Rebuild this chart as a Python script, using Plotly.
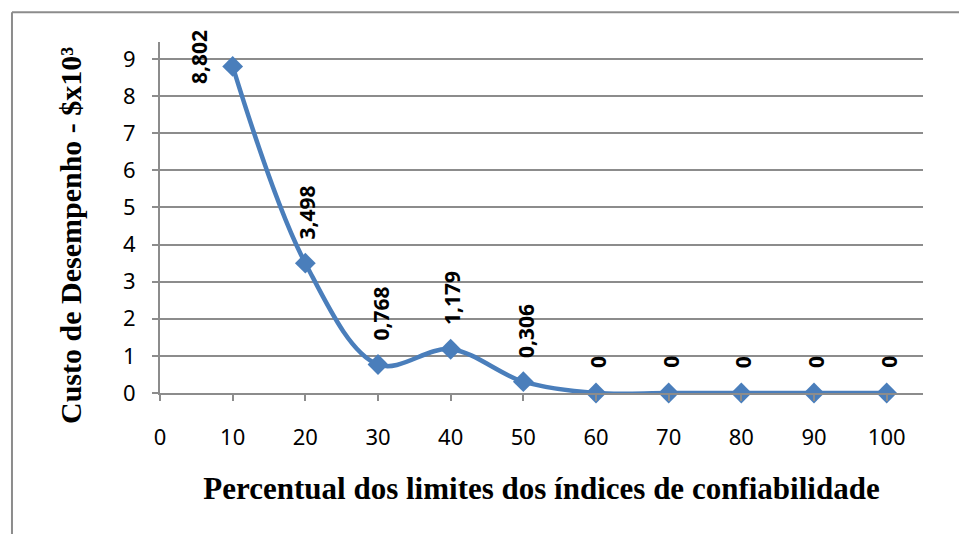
import plotly.graph_objects as go

# Performance cost versus percentage of reliability-index limits
percentual = [10, 20, 30, 40, 50, 60, 70, 80, 90, 100]
custo = [8.802, 3.498, 0.768, 1.179, 0.306, 0, 0, 0, 0, 0]
x_ticks = [0, 10, 20, 30, 40, 50, 60, 70, 80, 90, 100]
y_ticks = [0, 1, 2, 3, 4, 5, 6, 7, 8, 9]

BLUE = "#4A7EBB"
GRID = "#8C8C8C"

fig = go.Figure()
fig.add_trace(go.Scatter(
    x=percentual, y=custo,
    mode="lines+markers",
    line=dict(color=BLUE, width=4.5, shape="spline", smoothing=1.0),
    marker=dict(symbol="diamond", size=16, color=BLUE),
    showlegend=False, cliponaxis=False,
))

# Rotated value labels above each point (first one sits left of its point)
for i, (xv, yv) in enumerate(zip(percentual, custo)):
    txt = f"{yv:.3f}".replace(".", ",") if yv != 0 else "0"
    if i == 0:
        xs, ys = -33, -20
    elif yv == 0:
        xs, ys = 2, 23
    else:
        xs, ys = 2, 22
    fig.add_annotation(
        x=xv, y=yv, text=f"<b>{txt}</b>", showarrow=False, textangle=-90,
        font=dict(family="Noto Sans", size=21, color="black"),
        xanchor="center", yanchor="bottom",
        xshift=xs, yshift=ys,
    )

# Vertical axis title
fig.add_annotation(
    x=-0.118, y=0.45, xref="paper", yref="paper",
    text="<b>Custo de Desempenho - $x10³</b>", showarrow=False, textangle=-90,
    font=dict(family="Liberation Serif", size=30, color="black"),
    xanchor="center", yanchor="middle",
)

fig.update_layout(
    width=959, height=534,
    margin=dict(l=160, r=36, t=42, b=141),
    paper_bgcolor="white", plot_bgcolor="white",
    xaxis=dict(
        range=[0, 105], tickvals=x_ticks, ticktext=[str(v) for v in x_ticks],
        showgrid=False, zeroline=False,
        showline=True, linecolor=GRID, linewidth=2,
        ticks="outside", ticklen=6, tickcolor=GRID, tickwidth=2,
        ticklabelstandoff=18,
        tickfont=dict(family="Noto Sans", size=22, color="black"),
        title=dict(text="<b>Percentual dos limites dos índices de confiabilidade</b>",
                   font=dict(family="Liberation Serif", size=31, color="black"),
                   standoff=27),
    ),
    yaxis=dict(
        range=[0, 9.46], tickvals=y_ticks, ticktext=[str(v) for v in y_ticks],
        showgrid=True, gridcolor=GRID, gridwidth=2, zeroline=False,
        showline=True, linecolor=GRID, linewidth=2,
        ticks="outside", ticklen=6, tickcolor=GRID, tickwidth=2,
        ticklabelstandoff=12,
        tickfont=dict(family="Noto Sans", size=22, color="black"),
    ),
)

# Chart frame (top and left edges)
fig.add_shape(type="line", xref="paper", yref="paper",
              x0=-0.194, x1=1.2, y0=1.085, y1=1.085,
              line=dict(color=GRID, width=2))
fig.add_shape(type="line", xref="paper", yref="paper",
              x0=-0.194, x1=-0.194, y0=1.085, y1=-0.5,
              line=dict(color=GRID, width=2))

fig.write_html("out.html")
